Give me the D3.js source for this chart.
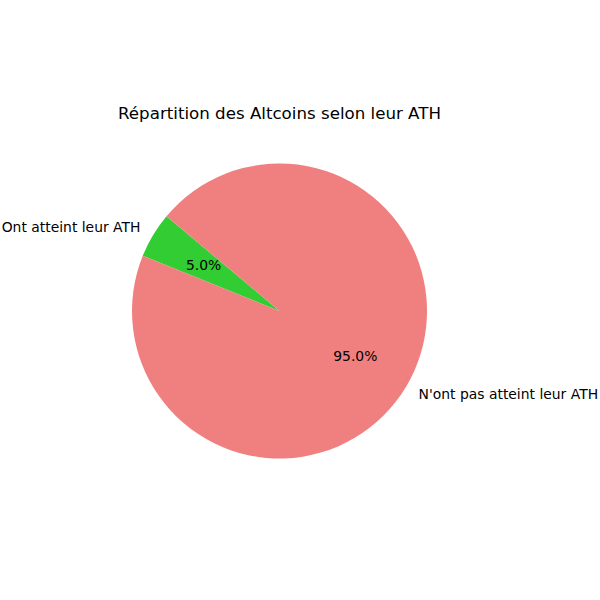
<!DOCTYPE html>
<html><head><meta charset="utf-8">
<script src="https://cdn.jsdelivr.net/npm/d3@7"></script>
<style>body{margin:0;background:#fff}</style>
</head><body>
<svg id="c" width="600" height="600"></svg>
<script>
const categories = ["Ont atteint leur ATH", "N'ont pas atteint leur ATH"];
const values = [5, 95];
const colors = ["#32CD32", "#F08080"];
const title = "Répartition des Altcoins selon leur ATH";

const svg = d3.select("#c");
const cx = 279.5, cy = 311, R = 147.5;
const startDeg = 140;
const toRad = d => d * Math.PI / 180;
const pie = d3.pie().sort(null)
  .startAngle(toRad(90 - startDeg))
  .endAngle(toRad(90 - startDeg - 360));
const arcs = pie(values);
const arc = d3.arc().innerRadius(0).outerRadius(R);
const g = svg.append("g").attr("transform", `translate(${cx},${cy})`);
g.selectAll("path").data(arcs).enter().append("path")
  .attr("d", arc).attr("fill", (d, i) => colors[i]);

const font = "DejaVu Sans, sans-serif";
arcs.forEach((d, i) => {
  const mid = (d.startAngle + d.endAngle) / 2;
  const sx = Math.sin(mid), sy = -Math.cos(mid);
  g.append("text")
    .attr("x", 1.1 * R * sx).attr("y", 1.1 * R * sy)
    .attr("dy", "0.35em")
    .attr("text-anchor", sx < 0 ? "end" : "start")
    .style("font-family", font).style("font-size", "13.9px")
    .text(categories[i]);
  g.append("text")
    .attr("x", 0.6 * R * sx).attr("y", 0.6 * R * sy)
    .attr("dy", "0.35em")
    .attr("text-anchor", "middle")
    .style("font-family", font).style("font-size", "13.9px")
    .text((values[i] / d3.sum(values) * 100).toFixed(1) + "%");
});
svg.append("text").attr("x", 279.5).attr("y", 113).attr("dy", "0.35em")
  .attr("text-anchor", "middle")
  .style("font-family", font).style("font-size", "16.67px")
  .text(title);
</script>
</body></html>
